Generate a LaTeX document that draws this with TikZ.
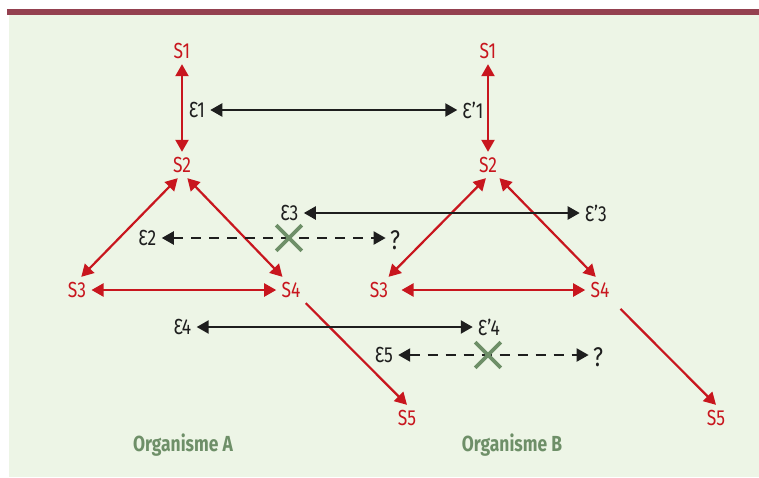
\documentclass[tikz,border=0pt]{standalone}
\usepackage{fontspec}
\setmainfont{Fira Sans}[FakeStretch=0.8]
\usepackage{tikz}
\usetikzlibrary{arrows.meta, shapes.misc}
\definecolor{paper}{HTML}{EDF5E6}
\definecolor{band}{HTML}{944150}
\definecolor{sred}{HTML}{C8161E}
\definecolor{sgreen}{HTML}{6E8F68}
\definecolor{ink}{HTML}{1E1E1E}

\begin{document}
\begin{tikzpicture}[x=0.5pt,y=-0.5pt,
  font=\fontsize{10.9}{12}\selectfont,
  >={Triangle[length=6pt,width=6.5pt]},
  st/.style={text=sred,inner sep=2.5pt},
  ep/.style={text=ink,inner sep=2.5pt},
  qm/.style={text=ink,inner sep=2pt,font=\fontsize{13.5}{14}\selectfont},
  org/.style={text=sgreen,font=\fontsize{10.9}{12}\selectfont\bfseries},
  rarr/.style={draw=sred,line width=1.1pt},
  barr/.style={draw=ink,line width=1.1pt},
  darr/.style={draw=ink,line width=1.1pt,dash pattern=on 5pt off 4pt},
  xmark/.style={cross out,draw=sgreen,line width=1.8pt,minimum size=11pt,inner sep=0pt}]
  \useasboundingbox (0,0) rectangle (759,477);
  \fill[paper] (9,14.7) rectangle (759,477);
  \fill[band] (7,9.3) rectangle (759,14.7);
  % organisme A
  \node[st] (a1) at (182,51) {S1};
  \node[st] (a2) at (182,165) {S2};
  \node[st] (a3) at (77,290) {S3};
  \node[st] (a4) at (291,290) {S4};
  \node[st] (a5) at (407,418) {S5};
  % organisme B
  \node[st] (b1) at (488,51) {S1};
  \node[st] (b2) at (488,165) {S2};
  \node[st] (b3) at (379,290) {S3};
  \node[st] (b4) at (600,290) {S4};
  \node[st] (b5) at (716,418) {S5};
  % epsilon labels
  \node[ep] (e1) at (197,110) {Ɛ1};
  \node[ep] (e1p) at (473,110) {Ɛ’1};
  \node[ep] (e2) at (147.5,238) {Ɛ2};
  \node[qm] (q1) at (395,240) {?};
  \node[ep] (e3) at (289.5,213) {Ɛ3};
  \node[ep] (e3p) at (596,213) {Ɛ’3};
  \node[ep] (e4) at (182.5,327) {Ɛ4};
  \node[ep] (e4p) at (489,327) {Ɛ’4};
  \node[ep] (e5) at (384,355) {Ɛ5};
  \node[qm] (q2) at (598,357) {?};
  \node[org] (orgA) at (183,445) {Organisme A};
  \node[org] (orgB) at (512,445) {Organisme B};
  % red links
  \draw[rarr,<->] (a1) -- (a2);
  \draw[rarr,<->] (a2.-108) -- (a3.72);
  \draw[rarr,<->] (a2.-68) -- (a4.123);
  \draw[rarr,<->] (a3) -- (a4);
  \draw[rarr,->] (a4.south east) -- (a5.north);
  \draw[rarr,<->] (b1) -- (b2);
  \draw[rarr,<->] (b2.-99) -- (b3.54);
  \draw[rarr,<->] (b2.-49) -- (b4.108);
  \draw[rarr,<->,shorten <=4pt] (b3) -- (b4);
  \draw[rarr,->,shorten <=4pt] (b4.south east) -- (b5.north);
  % black links
  \draw[barr,<->] (e1) -- (e1p);
  \draw[barr,<->] (e3) -- (e3p);
  \draw[barr,<->] (e4) -- (e4p);
  \draw[darr,<->] (e2) -- (q1.west|-e2);
  \draw[darr,<->] (e5) -- (q2.west|-e5);
  \node[xmark] (x1) at (289,238) {};
  \node[xmark] (x2) at (488,355) {};
\end{tikzpicture}
\end{document}
